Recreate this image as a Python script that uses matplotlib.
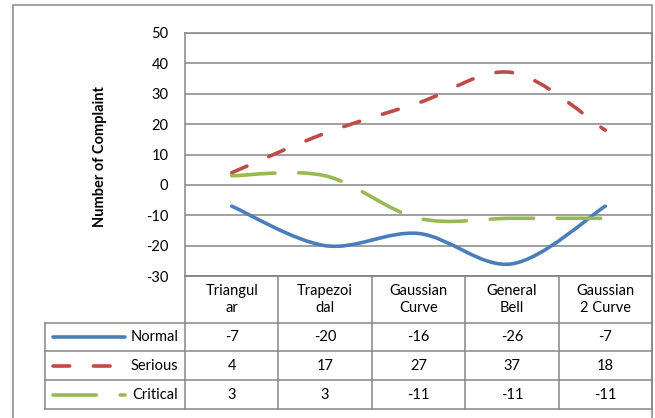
import matplotlib.pyplot as plt
import numpy as np
from matplotlib.path import Path
from matplotlib.patches import PathPatch, Rectangle
from matplotlib.lines import Line2D

plt.rcParams['font.family'] = ['Lato', 'DejaVu Sans']
plt.rcParams['axes.unicode_minus'] = False

# Дані
categories = ['Triangul\nar', 'Trapezoi\ndal', 'Gaussian\nCurve', 'General\nBell', 'Gaussian\n2 Curve']
series_names = ['Normal', 'Serious', 'Critical']
normal = [-7, -20, -16, -26, -7]
serious = [4, 17, 27, 37, 18]
critical = [3, 3, -11, -11, -11]
yticks = [-30, -20, -10, 0, 10, 20, 30, 40, 50]

colors = ['#4a7ebb', '#be4b48', '#98b954']
lw = 2.6
dash_styles = [None, (0, (4.6, 6.6)), (0, (12.0, 6.6))]
grid_col = '#868686'
fs = 10.5

W, H = 655, 418
fig = plt.figure(figsize=(W / 100, H / 100), dpi=100)


def fx(px):
    return px / W


def fy(py):
    return (H - py) / H


# рамка всієї діаграми
fig.add_artist(Rectangle((fx(13), fy(430)), fx(652) - fx(13), fy(5) - fy(430),
                         transform=fig.transFigure, fill=False, edgecolor=grid_col, lw=1.1))

# Основна область графіка
L, R, T, B = 185, 652, 33, 276
ax = fig.add_axes([fx(L), fy(B), fx(R) - fx(L), fy(T) - fy(B)])
ax.set_xlim(-0.5, len(categories) - 0.5)
ax.set_ylim(-30, 50)
ax.set_yticks(yticks)
ax.set_xticks([])
ax.tick_params(axis='y', length=0, pad=12, labelsize=fs)
for s in ax.spines.values():
    s.set_color(grid_col)
    s.set_linewidth(1.1)
for v in yticks:
    ax.axhline(v, color=grid_col, lw=1.1, zorder=1)


def smooth_path(xs, ys):
    # згладжена лінія як у Excel (кубічні криві Безьє)
    pts = np.column_stack([xs, ys]).astype(float)
    n = len(pts)
    verts = [pts[0]]
    codes = [Path.MOVETO]
    for i in range(n - 1):
        p0 = pts[i - 1] if i > 0 else pts[i]
        p1 = pts[i]
        p2 = pts[i + 1]
        p3 = pts[i + 2] if i + 2 < n else pts[i + 1]
        c1 = p1 + (p2 - p0) / 6
        c2 = p2 - (p3 - p1) / 6
        verts += [c1, c2, p2]
        codes += [Path.CURVE4] * 3
    return Path(verts, codes)


x = np.arange(len(categories))
for vals, c, ds in zip([normal, serious, critical], colors, dash_styles):
    patch = PathPatch(smooth_path(x, vals), fill=False, edgecolor=c, lw=lw,
                      capstyle='round', zorder=3)
    if ds is not None:
        patch.set_linestyle(ds)
    ax.add_patch(patch)

fig.text(fx(100), fy(157), 'Number of Complaint', rotation=90, ha='center', va='center',
         fontsize=fs, fontweight='bold')

# Таблиця даних
TB = 409
tax = fig.add_axes([fx(L), fy(TB), fx(R) - fx(L), fy(B) - fy(TB)])
tax.axis('off')
tax.set_xlim(-0.5, len(categories) - 0.5)
head = 1.62
tax.set_ylim(head + 3, 0)
col_px = (R - L) / len(categories)
xl = -0.5 - (L - 45) / col_px

kw = dict(color=grid_col, lw=1.1, clip_on=False)
# горизонтальні лінії
tax.plot([-0.5, 4.5], [0, 0], **kw)
for r in range(4):
    tax.plot([xl, 4.5], [head + r, head + r], **kw)
# вертикальні лінії
for b in np.arange(-0.5, 5.0, 1.0):
    tax.plot([b, b], [0, head + 3], **kw)
tax.plot([xl, xl], [head, head + 3], **kw)

for i, cat in enumerate(categories):
    tax.text(i, head / 2, cat, ha='center', va='center', fontsize=fs, linespacing=1.25)

for r, (name, vals, c, ds) in enumerate(zip(series_names, [normal, serious, critical],
                                             colors, dash_styles)):
    yc = head + r + 0.5
    for i, v in enumerate(vals):
        tax.text(i, yc, str(v), ha='center', va='center', fontsize=fs)
    ln = Line2D([-0.5 - (L - 53) / col_px, -0.5 - (L - 125) / col_px], [yc, yc],
                color=c, lw=lw, solid_capstyle='round', dash_capstyle='round', clip_on=False)
    if ds is not None:
        ln.set_linestyle(ds)
    tax.add_line(ln)
    tax.text(-0.5 - 7 / col_px, yc, name, ha='right', va='center', fontsize=fs)

fig.savefig('out.png', dpi=100)
